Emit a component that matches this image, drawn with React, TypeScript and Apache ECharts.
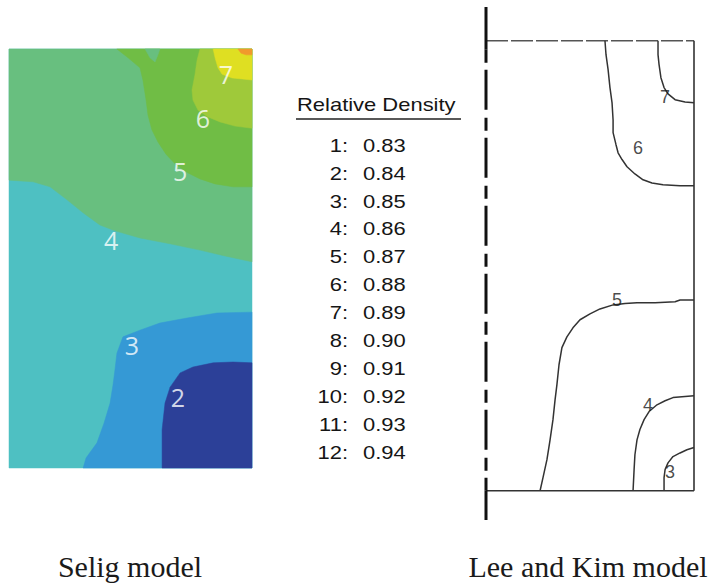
import React, { useEffect, useRef } from "react";
import * as echarts from "echarts";

// ---------- Left panel (Selig model): filled contour region boundaries, normalized [x, y] ----------
const fullPanel = [[0, 0], [1, 0], [1, 1], [0, 1]];
const boundary4 = [[0, 0.687], [0.099, 0.683], [0.169, 0.671], [0.239, 0.64], [0.305, 0.609], [0.374, 0.58], [0.436, 0.566], [0.539, 0.549], [0.663, 0.535], [0.786, 0.52], [0.889, 0.506], [1, 0.492]];
const boundary5 = [[0.444, 1], [0.49, 0.979], [0.539, 0.955], [0.551, 0.926], [0.564, 0.878], [0.572, 0.842], [0.588, 0.807], [0.613, 0.778], [0.646, 0.749], [0.683, 0.726], [0.737, 0.704], [0.786, 0.69], [0.848, 0.678], [0.922, 0.671], [1, 0.671]];
const notch5 = [[0.56, 1], [0.58, 0.979], [0.601, 0.969], [0.613, 0.986], [0.621, 1]];
const boundary6 = [[0.786, 1], [0.774, 0.974], [0.765, 0.938], [0.753, 0.902], [0.757, 0.878], [0.778, 0.854], [0.819, 0.838], [0.868, 0.826], [0.93, 0.816], [1, 0.811]];
const boundary7 = [[0.84, 1], [0.848, 0.979], [0.86, 0.955], [0.877, 0.94], [0.918, 0.931], [1, 0.926]];
const boundary8 = [[0.942, 1], [0.955, 0.99], [0.975, 0.986], [1, 0.986]];
const boundary3 = [[0.305, 0], [0.317, 0.024], [0.362, 0.06], [0.391, 0.107], [0.416, 0.155], [0.428, 0.198], [0.436, 0.234], [0.444, 0.274], [0.469, 0.313], [0.539, 0.329], [0.621, 0.346], [0.733, 0.358], [0.856, 0.37], [1, 0.372]];
const boundary2 = [[0.63, 0], [0.63, 0.091], [0.642, 0.155], [0.663, 0.193], [0.704, 0.227], [0.757, 0.241], [0.84, 0.251], [0.922, 0.253], [1, 0.251]];

const leftLabelNames = ["7", "6", "5", "4", "3", "2"];
const leftLabelPos = [[0.893, 0.94], [0.798, 0.835], [0.704, 0.709], [0.42, 0.544], [0.506, 0.294], [0.695, 0.169]];

// ---------- Right panel (Lee and Kim model): contour lines, normalized [x, y] ----------
const contour7 = [[0.827, 1], [0.827, 0.969], [0.832, 0.947], [0.841, 0.918], [0.856, 0.896], [0.875, 0.882], [0.909, 0.869], [0.957, 0.864], [1, 0.862]];
const contour6 = [[0.572, 1], [0.577, 0.969], [0.587, 0.936], [0.596, 0.896], [0.606, 0.862], [0.611, 0.824], [0.611, 0.796], [0.625, 0.769], [0.635, 0.751], [0.654, 0.736], [0.678, 0.72], [0.716, 0.704], [0.755, 0.691], [0.798, 0.684], [0.851, 0.68], [0.933, 0.678], [1, 0.678]];
const contour5 = [[0.26, 0], [0.274, 0.029], [0.293, 0.069], [0.308, 0.113], [0.322, 0.158], [0.332, 0.202], [0.341, 0.236], [0.351, 0.28], [0.365, 0.318], [0.389, 0.342], [0.418, 0.362], [0.452, 0.38], [0.5, 0.393], [0.548, 0.404], [0.611, 0.413], [0.668, 0.416], [0.726, 0.418], [0.813, 0.418], [0.909, 0.42], [0.933, 0.424], [1, 0.424]];
const contour4 = [[0.707, 0], [0.712, 0.047], [0.716, 0.08], [0.726, 0.113], [0.74, 0.136], [0.76, 0.158], [0.784, 0.176], [0.822, 0.191], [0.861, 0.2], [0.899, 0.207], [1, 0.211]];
const contour3 = [[0.856, 0], [0.856, 0.029], [0.861, 0.047], [0.875, 0.062], [0.899, 0.076], [0.933, 0.084], [0.966, 0.091], [1, 0.096]];

const rightLabelNames = ["7", "6", "5", "4", "3"];
const rightLabelPos = [[0.861, 0.876], [0.731, 0.762], [0.63, 0.424], [0.779, 0.191], [0.885, 0.042]];

// frame of the right panel
const symmetryTop = [[0, 1.075], [0, 0.98]];
const symmetryDashed = [[0, 0.98], [0, 0]];
const symmetryBottom = [[0, 0], [0, -0.065]];
const frameTop = [[0, 1], [1, 1]];
const frameRight = [[1, 1], [1, 0]];
const frameBottom = [[0, 0], [1, 0]];

// ---------- Legend ----------
const levelIds = [1, 2, 3, 4, 5, 6, 7, 8, 9, 10, 11, 12];
const levelValues = ["0.83", "0.84", "0.85", "0.86", "0.87", "0.88", "0.89", "0.90", "0.91", "0.92", "0.93", "0.94"];
const legendTitle = "Relative Density";
const captions = ["Selig model", "Lee and Kim model"];

const polygonSeries = (pts: number[][], color: string, z: number) => ({
  type: "custom",
  xAxisIndex: 0,
  yAxisIndex: 0,
  silent: true,
  z,
  data: [[0, 0]],
  renderItem: (_params: any, api: any) => ({
    type: "polygon",
    shape: { points: pts.map((p) => api.coord(p)) },
    style: { fill: color, stroke: color, lineWidth: 0.5 },
  }),
});

const lineSeries = (pts: number[][], color: string, width: number, type: any, z = 3) => ({
  type: "line",
  xAxisIndex: 1,
  yAxisIndex: 1,
  silent: true,
  symbol: "none",
  showSymbol: false,
  z,
  data: pts,
  lineStyle: { color, width, type },
});

export default function App() {
  const ref = useRef<HTMLDivElement>(null);
  useEffect(() => {
    document.body.style.margin = "0";
    const chart = echarts.init(ref.current!, undefined, { renderer: "svg" });
    const sansFont = "Liberation Sans, Arial, sans-serif";
    const legendX = 348;
    const legendValX = 363;
    const legendY0 = 145.5;
    const legendStep = 27.9;
    const sx = 1.22;
    const graphics: any[] = [
      {
        type: "text",
        x: 297,
        y: 105,
        scaleX: sx,
        style: { text: legendTitle, fontSize: 18, fontFamily: sansFont, fill: "#151515", textAlign: "left", textVerticalAlign: "middle" },
      },
      { type: "line", shape: { x1: 296, y1: 119, x2: 461, y2: 119 }, style: { stroke: "#222", lineWidth: 1.4 } },
    ];
    levelIds.forEach((id, i) => {
      const y = legendY0 + i * legendStep;
      graphics.push({
        type: "text",
        x: legendX,
        y,
        scaleX: sx,
        style: { text: id + ":", fontSize: 18, fontFamily: sansFont, fill: "#151515", textAlign: "right", textVerticalAlign: "middle" },
      });
      graphics.push({
        type: "text",
        x: legendValX,
        y,
        scaleX: sx,
        style: { text: levelValues[i], fontSize: 18, fontFamily: sansFont, fill: "#151515", textAlign: "left", textVerticalAlign: "middle" },
      });
    });
    const capX = [130, 588];
    captions.forEach((c, i) => {
      graphics.push({
        type: "text",
        x: capX[i],
        y: 566,
        style: { text: c, fontSize: 30, fontFamily: "Liberation Serif, Times New Roman, serif", fill: "#1a1a1a", textAlign: "center", textVerticalAlign: "middle" },
      });
    });

    chart.setOption({
      animation: false,
      backgroundColor: "#fff",
      grid: [
        { left: 9, top: 49, width: 243, height: 419 },
        { left: 486, top: 7, width: 208, height: 513 },
      ],
      xAxis: [
        { gridIndex: 0, type: "value", min: 0, max: 1, show: false },
        { gridIndex: 1, type: "value", min: 0, max: 1, show: false },
      ],
      yAxis: [
        { gridIndex: 0, type: "value", min: 0, max: 1, show: false },
        { gridIndex: 1, type: "value", min: -0.065, max: 1.075, show: false },
      ],
      series: [
        polygonSeries(fullPanel, "#4ec0c2", 1),
        polygonSeries([...boundary4, [1, 1], [0, 1]], "#68bf7f", 2),
        polygonSeries([...boundary5, [1, 1]], "#70bd45", 3),
        polygonSeries(notch5, "#68bf7f", 4),
        polygonSeries([...boundary6, [1, 1]], "#9fc93a", 5),
        polygonSeries([...boundary7, [1, 1]], "#dfdf22", 6),
        polygonSeries([...boundary8, [1, 1]], "#f09a2c", 7),
        polygonSeries([...boundary3, [1, 0]], "#3599d5", 8),
        polygonSeries([...boundary2, [1, 0]], "#2c4098", 9),
        {
          type: "scatter",
          xAxisIndex: 0,
          yAxisIndex: 0,
          silent: true,
          z: 10,
          symbolSize: 1,
          itemStyle: { color: "rgba(0,0,0,0)" },
          label: { show: true, position: "inside", formatter: "{b}", color: "#fff", fontSize: 25, fontFamily: "Open Sans, sans-serif" },
          data: leftLabelNames.map((n, i) => ({ name: n, value: leftLabelPos[i] })),
        },
        lineSeries(frameTop, "#555", 1.4, [22, 3]),
        lineSeries(frameRight, "#333", 1.6, "solid"),
        lineSeries(frameBottom, "#333", 1.6, "solid"),
        lineSeries(symmetryTop, "#111", 3, "solid", 4),
        lineSeries(symmetryDashed, "#111", 3, [13, 7, 40, 8], 4),
        lineSeries(symmetryBottom, "#111", 3, "solid", 4),
        lineSeries(contour7, "#333", 1.5, "solid"),
        lineSeries(contour6, "#333", 1.5, "solid"),
        lineSeries(contour5, "#333", 1.5, "solid"),
        lineSeries(contour4, "#333", 1.5, "solid"),
        lineSeries(contour3, "#333", 1.5, "solid"),
        {
          type: "scatter",
          xAxisIndex: 1,
          yAxisIndex: 1,
          silent: true,
          z: 10,
          symbolSize: 1,
          itemStyle: { color: "rgba(0,0,0,0)" },
          label: { show: true, position: "inside", formatter: "{b}", color: "#1a1a1a", fontSize: 18, fontFamily: sansFont },
          data: rightLabelNames.map((n, i) => ({ name: n, value: rightLabelPos[i] })),
        },
      ],
      graphic: graphics,
    });
    return () => chart.dispose();
  }, []);
  return <div ref={ref} style={{ width: 717, height: 585 }} />;
}
